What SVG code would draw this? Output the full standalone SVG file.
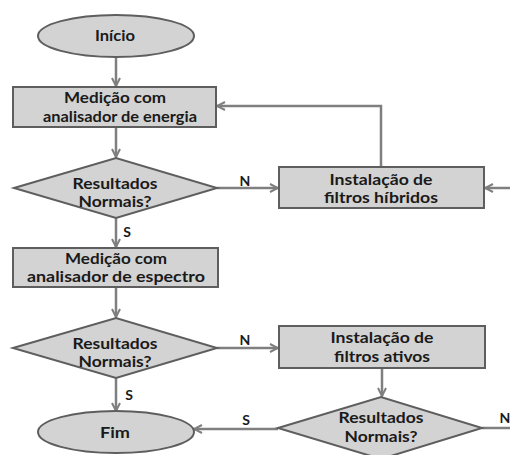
<svg xmlns="http://www.w3.org/2000/svg" width="510" height="455" viewBox="0 0 510 455">
<defs>
<marker id="arr" viewBox="0 0 10 10" markerWidth="10" markerHeight="10" refX="9" refY="5" orient="auto" markerUnits="userSpaceOnUse">
<path d="M1,1 L9,5 L1,9" fill="none" stroke="#7f7f7f" stroke-width="2"/>
</marker>
</defs>
<style>
.n{fill:#d3d3d3;stroke:#5e5e5e;stroke-width:2}
.t{font-family:Lato,"Liberation Sans",sans-serif;font-weight:bold;font-size:16px;fill:#1a1a1a;text-anchor:middle}
.l{font-family:Lato,"Liberation Sans",sans-serif;font-weight:bold;font-size:14px;fill:#1a1a1a;text-anchor:middle}
.c{fill:none;stroke:#7f7f7f;stroke-width:2.5}
.a{marker-end:url(#arr)}
</style>
<rect width="510" height="455" fill="#ffffff"/>
<g id="connectors">
<line class="c a" x1="116" y1="57" x2="116" y2="86"/>
<line class="c a" x1="116" y1="127" x2="116" y2="157"/>
<line class="c a" x1="217" y1="188" x2="278" y2="188"/>
<line class="c a" x1="510" y1="188" x2="485" y2="188"/>
<polyline class="c a" points="381,167 381,106 217,106"/>
<line class="c a" x1="116" y1="218" x2="116" y2="247"/>
<line class="c a" x1="116" y1="287" x2="116" y2="317"/>
<line class="c a" x1="217" y1="348" x2="278" y2="348"/>
<line class="c a" x1="116" y1="378" x2="116" y2="411"/>
<line class="c a" x1="382" y1="368" x2="382" y2="396"/>
<line class="c a" x1="278" y1="429" x2="194" y2="429"/>
<line class="c" x1="482" y1="428" x2="510" y2="428"/>
<text class="l" x="245" y="186">N</text>
<text class="l" x="127" y="237">S</text>
<text class="l" x="245" y="345">N</text>
<text class="l" x="129" y="400">S</text>
<text class="l" x="246" y="425">S</text>
<text class="l" x="505" y="423">N</text>
</g>
<g id="inicio">
<ellipse class="n" cx="116" cy="36" rx="78" ry="21"/>
<text class="t" x="115" y="41" font-size="18" textLength="40" lengthAdjust="spacingAndGlyphs">Início</text>
</g>
<g id="medicao-energia">
<rect class="n" x="13" y="87" width="203" height="40"/>
<text class="t" x="115" y="103" textLength="102" lengthAdjust="spacingAndGlyphs">Medição com</text>
<text class="t" x="120" y="122" textLength="154" lengthAdjust="spacingAndGlyphs">analisador de energia</text>
</g>
<g id="decisao1">
<polygon class="n" points="14,188 116,158 217,188 116,218"/>
<text class="t" x="115" y="189" textLength="85" lengthAdjust="spacingAndGlyphs">Resultados</text>
<text class="t" x="115" y="207" textLength="73" lengthAdjust="spacingAndGlyphs">Normais?</text>
</g>
<g id="filtros-hibridos">
<rect class="n" x="279" y="167" width="205" height="41"/>
<text class="t" x="381" y="185" textLength="103" lengthAdjust="spacingAndGlyphs">Instalação de</text>
<text class="t" x="381" y="203" textLength="114" lengthAdjust="spacingAndGlyphs">filtros híbridos</text>
</g>
<g id="medicao-espectro">
<rect class="n" x="13" y="248" width="205" height="39"/>
<text class="t" x="116" y="264" textLength="102" lengthAdjust="spacingAndGlyphs">Medição com</text>
<text class="t" x="116" y="282" textLength="178" lengthAdjust="spacingAndGlyphs">analisador de espectro</text>
</g>
<g id="decisao2">
<polygon class="n" points="13,348 116,318 217,348 116,378"/>
<text class="t" x="115" y="349" textLength="85" lengthAdjust="spacingAndGlyphs">Resultados</text>
<text class="t" x="115" y="367" textLength="73" lengthAdjust="spacingAndGlyphs">Normais?</text>
</g>
<g id="filtros-ativos">
<rect class="n" x="279" y="326" width="206" height="42"/>
<text class="t" x="382" y="343" textLength="103" lengthAdjust="spacingAndGlyphs">Instalação de</text>
<text class="t" x="382" y="362" textLength="96" lengthAdjust="spacingAndGlyphs">filtros ativos</text>
</g>
<g id="decisao3">
<polygon class="n" points="278,428 381,397 482,428 381,459"/>
<text class="t" x="381" y="423" textLength="85" lengthAdjust="spacingAndGlyphs">Resultados</text>
<text class="t" x="381" y="442" textLength="73" lengthAdjust="spacingAndGlyphs">Normais?</text>
</g>
<g id="fim">
<ellipse class="n" cx="116" cy="432" rx="78" ry="21"/>
<text class="t" x="115" y="438" textLength="30" lengthAdjust="spacingAndGlyphs">Fim</text>
</g>
</svg>
